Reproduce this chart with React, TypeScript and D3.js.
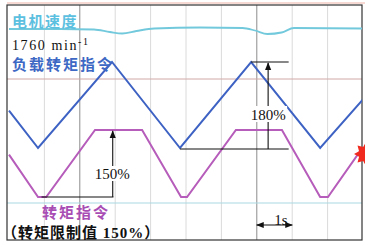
import React from 'react';
import * as d3 from 'd3';

// time in seconds (1 s per grid division)
const blueT = [0, 0.82, 2.91, 4.83, 6.84, 8.79, 10];
const blueV = [78, 0, 180, 0, 180, 0, 102]; // load torque command, %

const purpleT = [0, 0.82, 1.05, 2.43, 3.76, 4.86, 5.03, 6.41, 7.71, 8.79, 9.01, 10];
const purpleV = [95, 0, 0, 150, 150, 0, 0, 150, 150, 0, 0, 112]; // torque command, %

const speedT = [0, 1.44, 2.4, 2.85, 3.2, 3.6, 4.1, 5.4, 6.6, 6.95, 7.3, 7.7, 8.05, 10];
const speedV = [1759, 1759, 1758, 1753, 1750, 1755, 1760, 1762, 1761, 1756, 1749, 1752, 1761, 1760];

const gridDivs = d3.range(1, 10);

const W = 365;
const H = 242;
const cjk = '"Noto Sans CJK SC", sans-serif';
const serif = '"Liberation Serif", "DejaVu Serif", serif';

export default function App() {
    const x = d3.scaleLinear().domain([0, 10]).range([9, 363]);
    const yBlue = d3.scaleLinear().domain([0, 180]).range([148, 62]);
    const yPurple = d3.scaleLinear().domain([0, 150]).range([197, 130]);
    const ySpeed = d3.scaleLinear().domain([1700, 1760]).range([58.5, 28.5]);

    const blue = blueT.map((t, i) => [t, blueV[i]] as [number, number]);
    const purple = purpleT.map((t, i) => [t, purpleV[i]] as [number, number]);
    const speed = speedT.map((t, i) => [t, speedV[i]] as [number, number]);

    const blueLine = d3.line<[number, number]>().x((d) => x(d[0])).y((d) => yBlue(d[1]));
    const purpleLine = d3.line<[number, number]>().x((d) => x(d[0])).y((d) => yPurple(d[1]));
    const speedLine = d3
        .line<[number, number]>()
        .x((d) => x(d[0]))
        .y((d) => ySpeed(d[1]))
        .curve(d3.curveMonotoneX);

    // red burst at the right edge
    const star = d3.range(16).map((i) => {
        const a = (i * Math.PI) / 8;
        const r = i % 2 === 0 ? 12 : 7.5;
        return [366 + r * Math.cos(a), 154 + r * Math.sin(a)].join(',');
    }).join(' ');

    const arrowX180 = x(7.32);
    const arrowX150 = x(2.93);

    return (
        <svg width={W} height={H} style={{ position: 'absolute', left: 0, top: 0, background: '#fff' }}>
            <defs>
                <clipPath id="plot">
                    <rect x={7} y={5} width={355} height={235} />
                </clipPath>
                <marker id="ah" viewBox="0 0 10 10" refX={9} refY={5} markerWidth={7} markerHeight={7} orient="auto-start-reverse">
                    <path d="M0,1 L10,5 L0,9 z" fill="#111" />
                </marker>
            </defs>

            {/* grid */}
            {gridDivs.map((d) => (
                <line
                    key={d}
                    x1={x(d)}
                    x2={x(d)}
                    y1={5}
                    y2={240}
                    stroke={d === 2 || d === 7 ? '#8c8c8c' : '#dadada'}
                    strokeWidth={1}
                />
            ))}
            <line x1={7} x2={362} y1={79} y2={79} stroke="#d2a8a8" strokeWidth={1} />
            <line x1={7} x2={362} y1={203} y2={203} stroke="#a9d9e2" strokeWidth={1} />

            {/* frame */}
            <line x1={7} x2={365} y1={3} y2={3} stroke="#f0b4a8" strokeWidth={1.2} />
            <rect x={7} y={5} width={355} height={235} fill="none" stroke="#333" strokeWidth={1.2} />

            <g clipPath="url(#plot)">
                <path d={speedLine(speed) ?? ''} fill="none" stroke="#72c9dc" strokeWidth={1.8} />
                <path d={blueLine(blue) ?? ''} fill="none" stroke="#3d62c3" strokeWidth={2} />
                <path d={purpleLine(purple) ?? ''} fill="none" stroke="#b65cba" strokeWidth={2} />
            </g>

            {/* 180% annotation */}
            <line x1={x(6.84)} x2={x(7.9)} y1={yBlue(180)} y2={yBlue(180)} stroke="#111" strokeWidth={1.1} />
            <line x1={x(4.83)} x2={x(7.9)} y1={yBlue(0) + 1} y2={yBlue(0) + 1} stroke="#111" strokeWidth={1.1} />
            <line x1={arrowX180} x2={arrowX180} y1={yBlue(0) + 1} y2={yBlue(180) + 1} stroke="#111" strokeWidth={1.1} markerEnd="url(#ah)" />
            <rect x={arrowX180 - 18} y={106} width={37} height={16} fill="#fff" />
            <text x={arrowX180} y={120} textAnchor="middle" fontFamily={serif} fontSize={15} fill="#111">180%</text>

            {/* 150% annotation */}
            <line x1={x(0.92)} x2={x(2.95)} y1={yPurple(0)} y2={yPurple(0)} stroke="#111" strokeWidth={1.1} />
            <line x1={arrowX150} x2={arrowX150} y1={yPurple(0)} y2={yPurple(150) + 1} stroke="#111" strokeWidth={1.1} markerEnd="url(#ah)" />
            <rect x={arrowX150 - 19} y={166} width={38} height={15} fill="#fff" />
            <text x={arrowX150 - 0.5} y={179} textAnchor="middle" fontFamily={serif} fontSize={15} fill="#111">150%</text>

            {/* 1 s scale */}
            <line x1={x(7)} x2={x(8)} y1={225} y2={225} stroke="#111" strokeWidth={1.1} markerStart="url(#ah)" markerEnd="url(#ah)" />
            <text x={281} y={225} textAnchor="middle" fontFamily={serif} fontSize={15} fill="#111">1s</text>

            {/* labels */}
            <text x={12} y={27} fontFamily={cjk} fontWeight={700} fontSize={15} letterSpacing={1.5} fill="#5cc0e0">电机速度</text>
            <text x={12} y={50} fontFamily={serif} fontSize={14} letterSpacing={1.6} fill="#111">
                1760 min<tspan dy={-5} fontSize={10}>-1</tspan>
            </text>
            <text x={12} y={70} fontFamily={cjk} fontWeight={700} fontSize={15} letterSpacing={2} fill="#3d68c4">负载转矩指令</text>
            <text x={42} y={218} fontFamily={cjk} fontWeight={700} fontSize={15} letterSpacing={2} fill="#a84db4">转矩指令</text>
            <text x={2} y={238} fontFamily={cjk} fontWeight={700} fontSize={15} letterSpacing={1} fill="#111">
                （转矩限制值<tspan fontFamily={serif} fontWeight={700}> 150%</tspan>）
            </text>

            <polygon points={star} fill="#f02a1e" />
        </svg>
    );
}
